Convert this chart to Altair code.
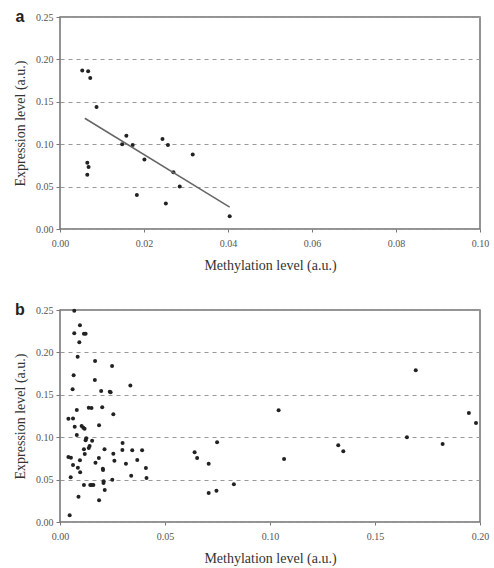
import altair as alt
import pandas as pd

# Panel a data
a_x = [0.0053, 0.0067, 0.0072, 0.0087, 0.0065, 0.0068, 0.0065, 0.0148, 0.0158, 0.0173,
       0.0201, 0.0183, 0.0244, 0.0257, 0.0270, 0.0285, 0.0252, 0.0316, 0.0404]
a_y = [0.187, 0.186, 0.178, 0.144, 0.078, 0.073, 0.064, 0.100, 0.110, 0.099,
       0.082, 0.040, 0.106, 0.099, 0.067, 0.050, 0.030, 0.088, 0.015]
fit_x = [0.0059, 0.0404]
fit_y = [0.1306, 0.0259]

# Panel b data
b_x = [0.0068, 0.0095, 0.0068, 0.0114, 0.0122, 0.0092, 0.0084, 0.0167, 0.0248, 0.0065,
       0.0166, 0.0335, 0.0060, 0.0196, 0.0237, 0.0241, 0.0080, 0.0137, 0.0150, 0.0201,
       0.0254, 0.0040, 0.0062, 0.0070, 0.0103, 0.0111, 0.0117, 0.0186, 0.0080, 0.0125,
       0.0122, 0.0153, 0.0298, 0.0141, 0.0137, 0.0114, 0.0118, 0.0212, 0.0297, 0.0344,
       0.0391, 0.0254, 0.0040, 0.0052, 0.0095, 0.0185, 0.0259, 0.0368, 0.0314, 0.0062,
       0.0085, 0.0096, 0.0169, 0.0204, 0.0205, 0.0409, 0.0339, 0.0051, 0.0412, 0.0249,
       0.0208, 0.0207, 0.0114, 0.0144, 0.0151, 0.0159, 0.0213, 0.0088, 0.0186, 0.0046,
       0.1694, 0.1041, 0.1947, 0.1981, 0.1652, 0.1822, 0.1325, 0.1349, 0.1067, 0.0748,
       0.0641, 0.0653, 0.0708, 0.0828, 0.0708, 0.0745]
b_y = [0.249, 0.232, 0.2225, 0.222, 0.222, 0.212, 0.195, 0.190, 0.184, 0.173,
       0.1675, 0.161, 0.1565, 0.1545, 0.1535, 0.1530, 0.132, 0.1348, 0.1345, 0.1352,
       0.127, 0.1218, 0.122, 0.1124, 0.1132, 0.1112, 0.110, 0.114, 0.1026, 0.0987,
       0.0963, 0.0959, 0.0932, 0.0896, 0.0873, 0.0857, 0.0802, 0.0857, 0.0849, 0.0845,
       0.0845, 0.0805, 0.0767, 0.0759, 0.0728, 0.0755, 0.0723, 0.0731, 0.0688, 0.0672,
       0.064, 0.0586, 0.0699, 0.0629, 0.0613, 0.0637, 0.0546, 0.0527, 0.0519, 0.0499,
       0.048, 0.046, 0.0435, 0.0435, 0.0435, 0.0435, 0.0377, 0.0298, 0.0256, 0.0079,
       0.179, 0.1317, 0.1285, 0.1167, 0.0999, 0.092, 0.0904, 0.0834, 0.0743, 0.094,
       0.0822, 0.0755, 0.0688, 0.0445, 0.0342, 0.0369]

y_ticks = [0.0, 0.05, 0.10, 0.15, 0.20, 0.25]
a_xticks = [0.0, 0.02, 0.04, 0.06, 0.08, 0.10]
b_xticks = [0.0, 0.05, 0.10, 0.15, 0.20]
x_title = "Methylation level (a.u.)"
y_title = "Expression level (a.u.)"
panel_labels = ["a", "b"]

SERIF = "Liberation Serif"
W, H = 420, 212
FRAME = "#707070"


def panel(xs, ys, xticks, xmax, label, fx=None, fy=None):
    df = pd.DataFrame({"x": xs, "y": ys})
    xscale = alt.Scale(domain=[0, xmax], nice=False, zero=True)
    yscale = alt.Scale(domain=[0, 0.25], nice=False)
    xenc = alt.X("x:Q", scale=xscale,
                 axis=alt.Axis(values=xticks, format=".2f", title=x_title, grid=False,
                               tickSize=3, labelPadding=6, titlePadding=10,
                               labelFlush=False))
    yenc = alt.Y("y:Q", scale=yscale,
                 axis=alt.Axis(values=y_ticks, format=".2f", title=y_title, grid=True,
                               tickSize=4, labelPadding=3, titlePadding=8,
                               labelFlush=False))
    pts = alt.Chart(df).mark_circle(size=16, color="#222", opacity=1).encode(x=xenc, y=yenc)
    layers = [pts]
    if fx is not None:
        ldf = pd.DataFrame({"x": fx, "y": fy})
        layers.append(alt.Chart(ldf).mark_line(color="#666", strokeWidth=1.5).encode(
            x=alt.X("x:Q", scale=xscale), y=alt.Y("y:Q", scale=yscale)))
    base = alt.Chart(pd.DataFrame({"t": [label]}))
    layers.append(base.mark_text(
        font="Liberation Sans", fontWeight="bold", fontSize=16, color="#222",
        align="center", baseline="middle").encode(
        text="t:N", x=alt.value(-40), y=alt.value(0)))
    return alt.layer(*layers).properties(
        width=W, height=H,
        view=alt.ViewBackground(stroke=FRAME, strokeWidth=1.5))


ca = panel(a_x, a_y, a_xticks, 0.10, panel_labels[0], fit_x, fit_y)
cb = panel(b_x, b_y, b_xticks, 0.20, panel_labels[1])

chart = alt.vconcat(ca, cb, spacing=28).properties(
    padding={"left": 12, "top": 8, "right": 2, "bottom": 2}
).configure_axis(
    labelFont=SERIF, labelFontSize=10, labelColor="#555",
    titleFont=SERIF, titleFontSize=14, titleFontWeight="normal", titleColor="#333",
    domain=False, tickColor="#777", gridColor="#999", gridDash=[4, 4], gridWidth=1.2
)

chart.save("out.html", embed_options={"renderer": "svg", "actions": False})
